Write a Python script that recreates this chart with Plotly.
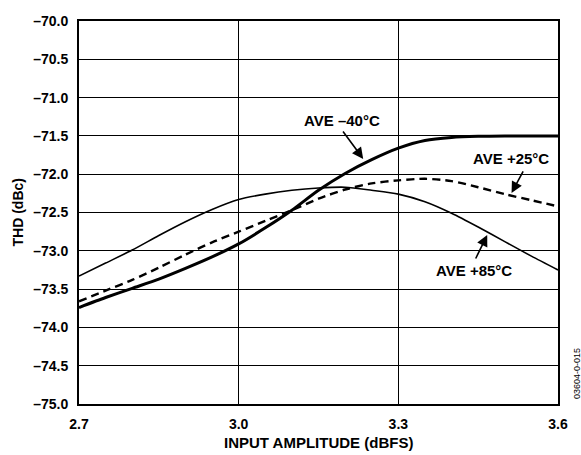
import plotly.graph_objects as go

x_vals = [2.70, 2.75, 2.80, 2.85, 2.90, 2.95, 3.00, 3.05, 3.10, 3.15,
          3.20, 3.25, 3.30, 3.35, 3.40, 3.45, 3.50, 3.55, 3.60]

thd_m40 = [-73.74, -73.61, -73.49, -73.37, -73.23, -73.08, -72.91, -72.70, -72.47, -72.21,
           -71.99, -71.81, -71.66, -71.56, -71.52, -71.505, -71.50, -71.50, -71.50]

thd_p25 = [-73.66, -73.52, -73.38, -73.22, -73.05, -72.89, -72.75, -72.61, -72.47, -72.32,
           -72.20, -72.12, -72.08, -72.06, -72.09, -72.17, -72.26, -72.34, -72.42]

thd_p85 = [-73.33, -73.16, -72.99, -72.80, -72.62, -72.46, -72.33, -72.26, -72.21, -72.18,
           -72.17, -72.21, -72.26, -72.36, -72.51, -72.69, -72.88, -73.07, -73.25]

x_ticks = [2.7, 3.0, 3.3, 3.6]
x_tick_text = ["2.7", "3.0", "3.3", "3.6"]
y_ticks = [-70.0, -70.5, -71.0, -71.5, -72.0, -72.5, -73.0, -73.5, -74.0, -74.5, -75.0]
y_tick_text = ["–70.0", "–70.5", "–71.0", "–71.5", "–72.0", "–72.5",
               "–73.0", "–73.5", "–74.0", "–74.5", "–75.0"]

labels = ["AVE –40°C", "AVE +25°C", "AVE +85°C"]
label_pos = [(3.194, -71.305), (3.512, -71.80), (3.442, -73.257)]
arrow_head = [(3.234, -71.80), (3.5127, -72.245), (3.467, -72.794)]
arrow_tail = [(3.194, -71.423), (3.536, -71.945), (3.444, -73.12)]

FONT = "Arial, Liberation Sans, Helvetica, sans-serif"

fig = go.Figure()
fig.add_trace(go.Scatter(x=x_vals, y=thd_p85, mode="lines",
                         line=dict(color="black", width=1.6, shape="spline", smoothing=0.7), showlegend=False))
fig.add_trace(go.Scatter(x=x_vals, y=thd_p25, mode="lines",
                         line=dict(color="black", width=2.4, dash="8px,5px", shape="spline", smoothing=0.7), showlegend=False))
fig.add_trace(go.Scatter(x=x_vals, y=thd_m40, mode="lines",
                         line=dict(color="black", width=3, shape="spline", smoothing=0.7), showlegend=False))

annotations = []
for txt, (lx, ly) in zip(labels, label_pos):
    annotations.append(dict(x=lx, y=ly, xref="x", yref="y", text=txt, showarrow=False,
                            font=dict(family=FONT, size=15, color="black", weight="bold"),
                            xanchor="center", yanchor="middle"))
for (hx, hy), (tx, ty) in zip(arrow_head, arrow_tail):
    annotations.append(dict(x=hx, y=hy, ax=tx, ay=ty, xref="x", yref="y", axref="x", ayref="y", text="",
                            showarrow=True, arrowhead=2, arrowsize=1.4, arrowwidth=1.6, arrowcolor="black"))
annotations.append(dict(x=0.5, y=0, xref="paper", yref="paper", yshift=-38, text="INPUT AMPLITUDE (dBFS)",
                        showarrow=False, font=dict(family=FONT, size=15, color="black", weight="bold"),
                        yanchor="middle"))
annotations.append(dict(x=0, y=0.5, xref="paper", yref="paper", xshift=-62, text="THD (dBc)", textangle=-90,
                        showarrow=False, font=dict(family=FONT, size=14, color="black", weight="bold"),
                        xanchor="center", yanchor="middle"))
annotations.append(dict(x=1, y=0, xref="paper", yref="paper", xshift=19, yshift=30, text="03604-0-015",
                        textangle=-90, showarrow=False, font=dict(family=FONT, size=9, color="black"),
                        xanchor="center", yanchor="middle"))

fig.update_layout(
    width=581, height=455,
    margin=dict(l=79, r=23, t=21, b=51),
    paper_bgcolor="white", plot_bgcolor="white",
    annotations=annotations,
    xaxis=dict(range=[2.7, 3.6], tickvals=x_ticks, ticktext=x_tick_text, showgrid=True, gridcolor="black",
               gridwidth=1, zeroline=False, showline=True, linecolor="black", linewidth=2, mirror=True,
               ticks="", ticklabelstandoff=6,
               tickfont=dict(family=FONT, size=14, color="black", weight="bold")),
    yaxis=dict(range=[-75, -70], tickvals=y_ticks, ticktext=y_tick_text, showgrid=True, gridcolor="black",
               gridwidth=1, zeroline=False, showline=True, linecolor="black", linewidth=2, mirror=True,
               ticks="", ticklabelstandoff=6,
               tickfont=dict(family=FONT, size=14, color="black", weight="bold")),
)

fig.write_html("out.html", config={"displayModeBar": False, "staticPlot": True},
               post_script="document.body.style.margin='0';document.body.style.overflow='hidden';")
